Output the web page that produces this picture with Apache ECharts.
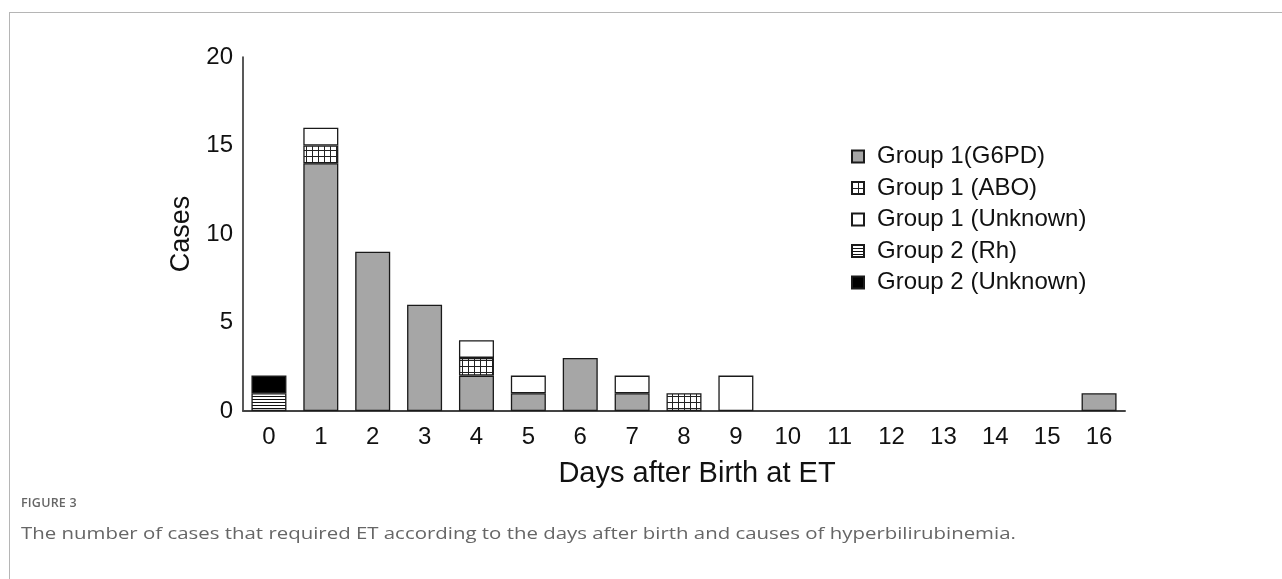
<!DOCTYPE html>
<html>
<head>
<meta charset="utf-8">
<script src="https://cdn.jsdelivr.net/npm/echarts@6/dist/echarts.min.js"></script>
<style>
  body { margin: 0; background: #fff; }
  #frame { position: absolute; left: 9px; top: 12px; width: 1300px; height: 600px;
           border-top: 1.5px solid #b5b5b5; border-left: 1.5px solid #b5b5b5; }
  #chart { position: absolute; left: 0; top: 0; width: 1282px; height: 579px; }
  .cap1 { position: absolute; left: 21px; top: 494px; font: 600 12.5px "Open Sans", sans-serif; color: #666; letter-spacing: 0.2px; }
  .cap2 { position: absolute; left: 21px; top: 521px; font: 400 17px "Open Sans", sans-serif; color: #666; white-space: nowrap;
          transform: scaleX(1.2); transform-origin: 0 0; }
</style>
</head>
<body>
<div id="frame"></div>
<div id="chart"></div>
<div class="cap1">FIGURE 3</div>
<div class="cap2">The number of cases that required ET according to the days after birth and causes of hyperbilirubinemia.</div>
<script>
// data
const days = ['0', '1', '2', '3', '4', '5', '6', '7', '8', '9', '10', '11', '12', '13', '14', '15', '16'];
const g1G6pd    = [null, 14, 9, 6, 2, 1, 3, 1, null, null, null, null, null, null, null, null, 1];
const g1Abo     = [null, 1, null, null, 1, null, null, null, 1, null, null, null, null, null, null, null, null];
const g1Unknown = [null, 1, null, null, 1, 1, null, 1, null, 2, null, null, null, null, null, null, null];
const g2Rh      = [1, null, null, null, null, null, null, null, null, null, null, null, null, null, null, null, null];
const g2Unknown = [1, null, null, null, null, null, null, null, null, null, null, null, null, null, null, null, null];
const yTicks = [0, 5, 10, 15, 20];

// patterns
function gridPattern() {
  let c = document.createElement('canvas');
  c.width = 6; c.height = 6;
  let ctx = c.getContext('2d');
  ctx.fillStyle = '#fff';
  ctx.fillRect(0, 0, 6, 6);
  ctx.fillStyle = '#222';
  ctx.fillRect(0, 0, 6, 1);
  ctx.fillRect(0, 0, 1, 6);
  return { image: c, repeat: 'repeat' };
}
function stripePattern() {
  let c = document.createElement('canvas');
  c.width = 3; c.height = 3;
  let ctx = c.getContext('2d');
  ctx.fillStyle = '#fff';
  ctx.fillRect(0, 0, 3, 3);
  ctx.fillStyle = '#111';
  ctx.fillRect(0, 0, 3, 1);
  return { image: c, repeat: 'repeat' };
}

let chartDom = document.getElementById('chart');
let myChart = echarts.init(chartDom, null, { renderer: 'canvas' });
let font = 'Liberation Sans, Arial, sans-serif';
let border = { borderColor: '#1a1a1a', borderWidth: 1.3 };

function bar(name, data, color) {
  return {
    name: name,
    type: 'bar',
    stack: 'all',
    barWidth: 35,
    data: data,
    itemStyle: Object.assign({ color: color }, border),
    emphasis: { disabled: true }
  };
}

let option = {
  animation: false,
  backgroundColor: 'transparent',
  grid: { left: 243, top: 57, right: 157, bottom: 168, containLabel: false },
  legend: {
    orient: 'vertical',
    left: 846,
    top: 139.5,
    itemWidth: 12,
    itemHeight: 12,
    itemGap: 7.5,
    icon: 'rect',
    textStyle: { fontFamily: font, fontSize: 24, lineHeight: 24, color: '#111', padding: [0, 0, 0, 8] },
    data: ['Group 1(G6PD)', 'Group 1 (ABO)', 'Group 1 (Unknown)', 'Group 2 (Rh)', 'Group 2 (Unknown)']
  },
  xAxis: {
    type: 'category',
    data: days,
    name: 'Days after Birth at ET',
    nameLocation: 'middle',
    nameGap: 48,
    nameTextStyle: { fontFamily: font, fontSize: 29, color: '#111', padding: [0, 0, 0, 26] },
    axisLine: { lineStyle: { color: '#444', width: 2 } },
    axisTick: { show: false },
    axisLabel: { fontFamily: font, fontSize: 24, color: '#111', margin: 14 }
  },
  yAxis: {
    type: 'value',
    min: yTicks[0],
    max: yTicks[yTicks.length - 1],
    interval: 5,
    name: 'Cases',
    nameLocation: 'middle',
    nameGap: 41,
    nameTextStyle: { fontFamily: font, fontSize: 27, color: '#111' },
    axisLine: { show: true, lineStyle: { color: '#222', width: 1.5 } },
    axisTick: { show: false },
    splitLine: { show: false },
    axisLabel: { fontFamily: font, fontSize: 24, color: '#111', margin: 10 }
  },
  series: [
    bar('Group 1(G6PD)', g1G6pd, '#a6a6a6'),
    bar('Group 1 (ABO)', g1Abo, gridPattern()),
    bar('Group 1 (Unknown)', g1Unknown, '#ffffff'),
    bar('Group 2 (Rh)', g2Rh, stripePattern()),
    bar('Group 2 (Unknown)', g2Unknown, '#000000')
  ]
};

option && myChart.setOption(option);
</script>
</body>
</html>
